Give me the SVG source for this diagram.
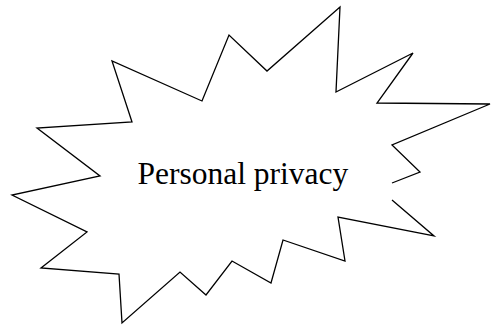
<svg xmlns="http://www.w3.org/2000/svg" width="491" height="327" viewBox="0 0 491 327">
<style>
.outline{fill:none;stroke:#000;stroke-width:1.3;stroke-linejoin:miter}
.label{font-family:"Liberation Serif","Times New Roman",serif;font-size:31.5px;fill:#000}
</style>
<rect width="491" height="327" fill="#fff"/>
<g id="burst">
<path class="outline" d="M392,200 L434,236 L338,217 L345,261 L283,240 L271,283 L232,261 L206,295 L180,272 L122,323 L119,274 L41,268 L87,232 L12,195 L100,176 L37,128 L132,122 L112,61 L202,101 L229,35 L267,71 L340,7 L336,92 L413,53 L377,103 L490,104 L392,145 L420,172 L392,183"/>
<text class="label" x="137.5" y="184">Personal privacy</text>
</g>
</svg>
